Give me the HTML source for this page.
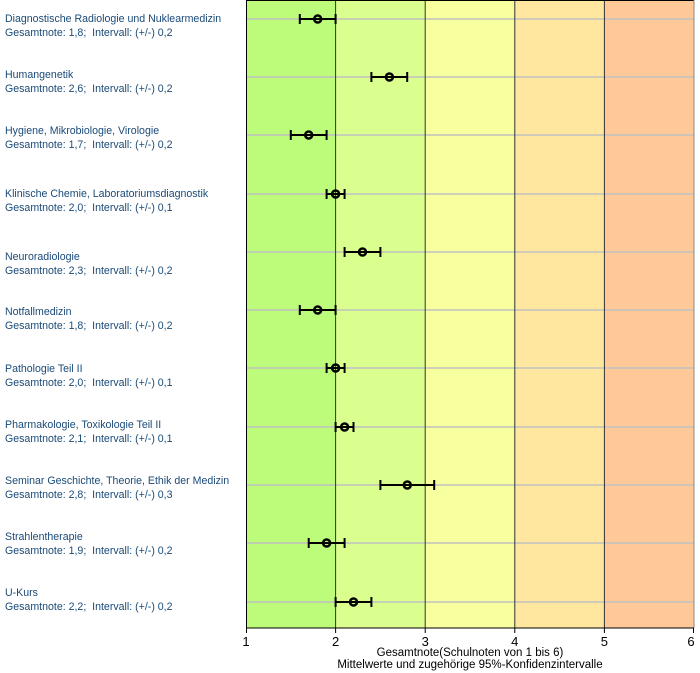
<!DOCTYPE html>
<html><head><meta charset="utf-8"><style>
body{margin:0;background:#fff;width:700px;height:673px;overflow:hidden}
svg{display:block}
text{font-family:"Liberation Sans",sans-serif}
</style></head><body>
<svg width="700" height="673" xmlns="http://www.w3.org/2000/svg">
<rect x="246" y="0" width="89.6" height="628" fill="#bdfb7a"/>
<rect x="335.6" y="0" width="89.6" height="628" fill="#dbff8e"/>
<rect x="425.2" y="0" width="89.6" height="628" fill="#f7ff9e"/>
<rect x="514.8" y="0" width="89.6" height="628" fill="#ffe79f"/>
<rect x="604.4" y="0" width="89.6" height="628" fill="#ffc899"/>
<g stroke="#c0c0c0" stroke-width="1.5">
<line x1="246" x2="694" y1="19" y2="19"/><line x1="246" x2="694" y1="77" y2="77"/>
<line x1="246" x2="694" y1="135" y2="135"/><line x1="246" x2="694" y1="194" y2="194"/>
<line x1="246" x2="694" y1="252" y2="252"/><line x1="246" x2="694" y1="310" y2="310"/>
<line x1="246" x2="694" y1="368" y2="368"/><line x1="246" x2="694" y1="427" y2="427"/>
<line x1="246" x2="694" y1="485" y2="485"/><line x1="246" x2="694" y1="543" y2="543"/>
<line x1="246" x2="694" y1="602" y2="602"/>
</g>
<g stroke="#333" stroke-width="1">
<line x1="335.6" x2="335.6" y1="0" y2="628"/><line x1="425.2" x2="425.2" y1="0" y2="628"/>
<line x1="514.8" x2="514.8" y1="0" y2="628"/><line x1="604.4" x2="604.4" y1="0" y2="628"/>
</g>
<line x1="246" x2="694" y1="0.5" y2="0.5" stroke="#000"/>
<line x1="246.5" x2="246.5" y1="0" y2="632" stroke="#000"/>
<line x1="694" x2="694" y1="0" y2="628" stroke="#888"/>
<line x1="246" x2="694" y1="628" y2="628" stroke="#000"/>
<g stroke="#000"><line x1="246.5" x2="246.5" y1="628" y2="633"/><line x1="335.6" x2="335.6" y1="628" y2="633"/><line x1="425.2" x2="425.2" y1="628" y2="633"/><line x1="514.8" x2="514.8" y1="628" y2="633"/><line x1="604.4" x2="604.4" y1="628" y2="633"/><line x1="693.5" x2="693.5" y1="628" y2="633"/></g>
<g font-size="13" fill="#000" text-anchor="middle">
<text x="246" y="646">1</text><text x="335.6" y="646">2</text><text x="425.2" y="646">3</text><text x="514.8" y="646">4</text><text x="604.4" y="646">5</text><text x="691" y="646">6</text>
</g>
<g font-size="11.5" fill="#000" text-anchor="middle">
<text x="470" y="656">Gesamtnote(Schulnoten von 1 bis 6)</text>
<text x="470" y="668">Mittelwerte und zugehörige 95%-Konfidenzintervalle</text>
</g>
<g stroke="#000" stroke-width="2" fill="none">
<path d="M299.8 19H335.6M299.8 14V24M335.6 14V24"/><circle cx="317.7" cy="19" r="3.5" stroke-width="2.5"/>
<path d="M371.4 77H407.2M371.4 72V82M407.2 72V82"/><circle cx="389.4" cy="77" r="3.5" stroke-width="2.5"/>
<path d="M290.8 135H326.6M290.8 130V140M326.6 130V140"/><circle cx="308.7" cy="135" r="3.5" stroke-width="2.5"/>
<path d="M326.6 194H344.6M326.6 189V199M344.6 189V199"/><circle cx="335.6" cy="194" r="3.5" stroke-width="2.5"/>
<path d="M344.6 252H380.4M344.6 247V257M380.4 247V257"/><circle cx="362.5" cy="252" r="3.5" stroke-width="2.5"/>
<path d="M299.8 310H335.6M299.8 305V315M335.6 305V315"/><circle cx="317.7" cy="310" r="3.5" stroke-width="2.5"/>
<path d="M326.6 368H344.6M326.6 363V373M344.6 363V373"/><circle cx="335.6" cy="368" r="3.5" stroke-width="2.5"/>
<path d="M335.6 427H353.5M335.6 422V432M353.5 422V432"/><circle cx="344.6" cy="427" r="3.5" stroke-width="2.5"/>
<path d="M380.4 485H434.2M380.4 480V490M434.2 480V490"/><circle cx="407.3" cy="485" r="3.5" stroke-width="2.5"/>
<path d="M308.7 543H344.6M308.7 538V548M344.6 538V548"/><circle cx="326.6" cy="543" r="3.5" stroke-width="2.5"/>
<path d="M335.6 602H371.4M335.6 597V607M371.4 597V607"/><circle cx="353.5" cy="602" r="3.5" stroke-width="2.5"/>
</g>
<g font-size="10.6" fill="#1a4a78">
<text x="5" y="22">Diagnostische Radiologie und Nuklearmedizin</text><text x="5" y="36">Gesamtnote: 1,8;&#160; Intervall: (+/-) 0,2</text>
<text x="5" y="78">Humangenetik</text><text x="5" y="92">Gesamtnote: 2,6;&#160; Intervall: (+/-) 0,2</text>
<text x="5" y="134">Hygiene, Mikrobiologie, Virologie</text><text x="5" y="148">Gesamtnote: 1,7;&#160; Intervall: (+/-) 0,2</text>
<text x="5" y="197">Klinische Chemie, Laboratoriumsdiagnostik</text><text x="5" y="211">Gesamtnote: 2,0;&#160; Intervall: (+/-) 0,1</text>
<text x="5" y="260">Neuroradiologie</text><text x="5" y="274">Gesamtnote: 2,3;&#160; Intervall: (+/-) 0,2</text>
<text x="5" y="315">Notfallmedizin</text><text x="5" y="329">Gesamtnote: 1,8;&#160; Intervall: (+/-) 0,2</text>
<text x="5" y="372">Pathologie Teil II</text><text x="5" y="386">Gesamtnote: 2,0;&#160; Intervall: (+/-) 0,1</text>
<text x="5" y="428">Pharmakologie, Toxikologie Teil II</text><text x="5" y="442">Gesamtnote: 2,1;&#160; Intervall: (+/-) 0,1</text>
<text x="5" y="484">Seminar Geschichte, Theorie, Ethik der Medizin</text><text x="5" y="498">Gesamtnote: 2,8;&#160; Intervall: (+/-) 0,3</text>
<text x="5" y="540">Strahlentherapie</text><text x="5" y="554">Gesamtnote: 1,9;&#160; Intervall: (+/-) 0,2</text>
<text x="5" y="596">U-Kurs</text><text x="5" y="610">Gesamtnote: 2,2;&#160; Intervall: (+/-) 0,2</text>
</g>
</svg>
</body></html>
